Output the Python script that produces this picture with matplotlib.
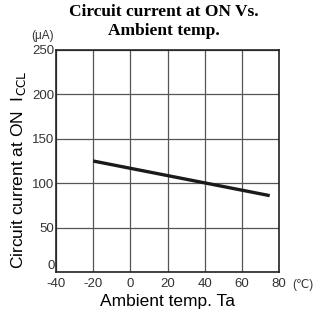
import matplotlib
matplotlib.use("Agg")
import matplotlib.pyplot as plt

# data
temp_c = [-20, 75]
current_ua = [125, 86]
x_ticks = [-40, -20, 0, 20, 40, 60, 80]
y_ticks = [0, 50, 100, 150, 200, 250]
title_lines = ["Circuit current at ON Vs.", "Ambient temp."]

plt.rcParams["font.family"] = ["Liberation Sans", "DejaVu Sans"]

fig = plt.figure(figsize=(3.2, 3.15), dpi=100)
ax = fig.add_axes([56 / 320, 1 - 272 / 315, 223 / 320, 222 / 315])

ax.plot(temp_c, current_ua, color="#1a1a1a", linewidth=2.4, solid_capstyle="butt")

ax.set_xlim(-40, 80)
ax.set_ylim(0, 250)
ax.set_xticks(x_ticks)
ax.set_yticks(y_ticks)
ax.set_xticklabels([str(t) for t in x_ticks], fontsize=9.5)
ax.set_yticklabels([str(t) for t in y_ticks], fontsize=9.5)
ax.tick_params(length=0, colors="#333333")
ax.tick_params(axis="x", pad=4)
ax.tick_params(axis="y", pad=1)
ax.get_yticklabels()[0].set_va("bottom")
ax.grid(True, color="#555555", linewidth=0.9)
for s in ax.spines.values():
    s.set_color("#222222")
    s.set_linewidth(1.2)

ax.set_xlabel("Ambient temp. Ta", fontsize=12.5, labelpad=3)
ax.set_ylabel(r"Circuit current at ON  I$_{\mathrm{CCL}}$", fontsize=12.5)
ax.yaxis.set_label_coords(-0.125, 0.46)

# title, two lines placed by hand
for i, line in enumerate(title_lines):
    fig.text(0.511, 1 - (12 + 19 * i) / 315, line, ha="center", va="center",
             fontsize=12.5, family="Liberation Serif", fontweight="bold")

ax.text(-0.01, 1.035, "(μA)", transform=ax.transAxes, ha="right", va="bottom",
        fontsize=8.5, color="#333333", family=["Liberation Sans", "DejaVu Sans"])
ax.text(1.06, -0.03, "(℃)", transform=ax.transAxes, ha="left", va="top",
        fontsize=8.5, color="#333333", family=["Liberation Sans", "DejaVu Sans"])

fig.savefig("out.png", dpi=100)
